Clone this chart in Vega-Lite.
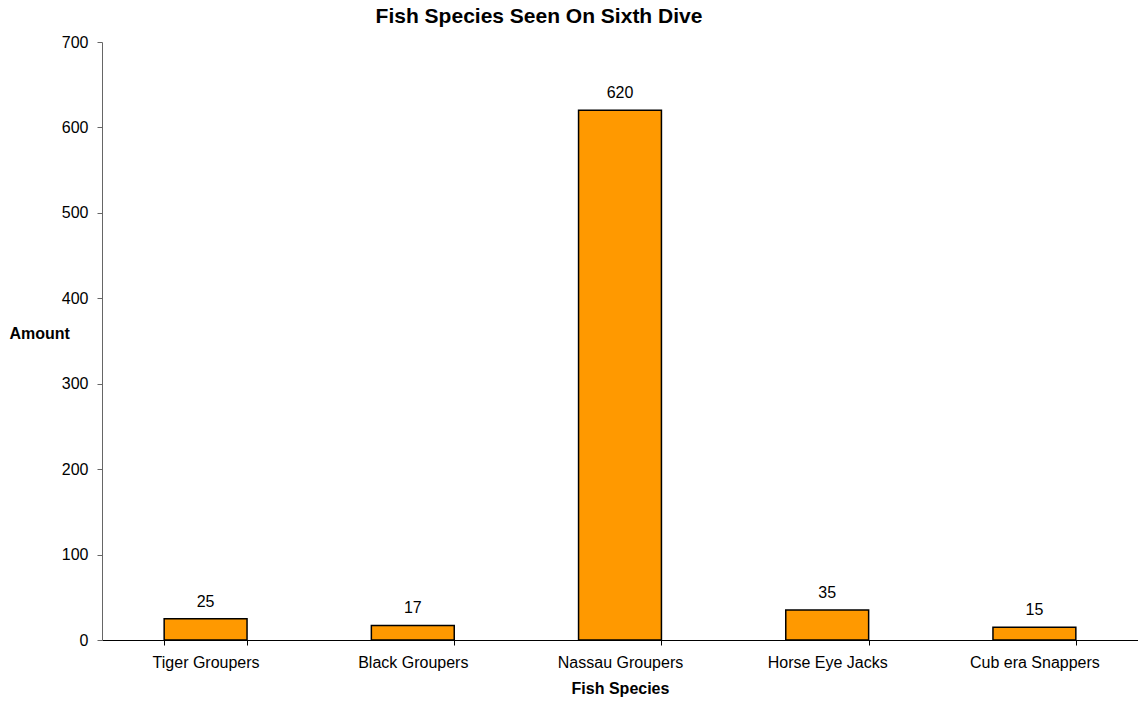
{
  "$schema": "https://vega.github.io/schema/vega-lite/v6.json",
  "autosize": "none",
  "width": 1036,
  "height": 598,
  "padding": {"left": 102, "top": 42, "right": 0, "bottom": 64},
  "background": "white",
  "config": {"view": {"stroke": null}, "font": "Liberation Sans"},
  "title": {"text": "Fish Species Seen On Sixth Dive", "font": "Liberation Sans", "fontSize": 21, "fontWeight": "bold", "color": "black", "anchor": "middle", "frame": "group", "dx": -81, "offset": 7},
  "data": {"values": [
    {"species": "Tiger Groupers", "amount": 25},
    {"species": "Black Groupers", "amount": 17},
    {"species": "Nassau Groupers", "amount": 620},
    {"species": "Horse Eye Jacks", "amount": 35},
    {"species": "Cub era Snappers", "amount": 15}
  ]},
  "encoding": {
    "x": {"field": "species", "type": "nominal", "sort": null,
      "scale": {"paddingInner": 0.6, "paddingOuter": 0.3},
      "axis": {"title": "Fish Species", "titleFont": "Liberation Sans", "titleFontSize": 16, "titleFontWeight": "bold", "titleColor": "black", "titlePadding": 10,
        "labelAngle": 0, "labelFont": "Liberation Sans", "labelFontSize": 16, "labelColor": "black", "labelPadding": 9,
        "tickBand": "extent", "tickSize": 5, "tickColor": "black", "domainColor": "black", "grid": false}},
    "y": {"field": "amount", "type": "quantitative",
      "scale": {"domain": [0, 700]},
      "axis": {"title": "Amount", "titleAngle": 0, "titleX": -93, "titleY": 291, "titleAlign": "left", "titleBaseline": "middle", "titleFont": "Liberation Sans", "titleFontSize": 16, "titleFontWeight": "bold", "titleColor": "black",
        "values": [0, 100, 200, 300, 400, 500, 600, 700], "labelFont": "Liberation Sans", "labelFontSize": 16, "labelColor": "black", "labelPadding": 9,
        "tickSize": 5, "tickColor": "#666666", "domainColor": "#666666", "grid": false}}
  },
  "layer": [
    {"mark": {"type": "bar", "color": "#FF9900", "stroke": "black", "strokeWidth": 1.5}},
    {"mark": {"type": "text", "baseline": "alphabetic", "dy": -12, "fontSize": 16, "font": "Liberation Sans", "color": "black"},
     "encoding": {"text": {"field": "amount", "type": "quantitative"}}}
  ]
}
